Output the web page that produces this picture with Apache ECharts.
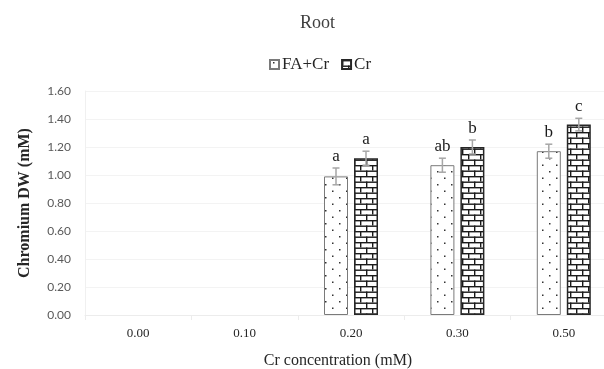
<!DOCTYPE html>
<html>
<head>
<meta charset="utf-8">
<script src="https://cdn.jsdelivr.net/npm/echarts@6/dist/echarts.min.js"></script>
<style>
    html, body { margin: 0; padding: 0; background: #fff; }
    #chart { width: 604px; height: 369px; }
</style>
</head>
<body>
<div id="chart"></div>
<script>
// data
const categories = ['0.00', '0.10', '0.20', '0.30', '0.50'];
const faCrValues = [null, null, 0.99, 1.07, 1.17];
const crValues = [null, null, 1.12, 1.20, 1.36];
const faCrErr = [null, null, 0.06, 0.05, 0.05];
const crErr = [null, null, 0.05, 0.05, 0.045];
const faCrLetters = ['', '', 'a', 'ab', 'b'];
const crLetters = ['', '', 'a', 'b', 'c'];

const serif = '"Liberation Serif", "DejaVu Serif", serif';

// dotted fill for FA+Cr
function dotPattern() {
    const c = document.createElement('canvas');
    c.width = 14; c.height = 13;
    const ctx = c.getContext('2d');
    ctx.fillStyle = '#fff';
    ctx.fillRect(0, 0, 14, 13);
    ctx.fillStyle = '#333';
    ctx.fillRect(3, 2, 1.5, 1.5);
    ctx.fillRect(10, 8.5, 1.5, 1.5);
    return c;
}

// brick fill for Cr
function brickPattern() {
    const c = document.createElement('canvas');
    c.width = 12; c.height = 11;
    const ctx = c.getContext('2d');
    ctx.fillStyle = '#fff';
    ctx.fillRect(0, 0, 12, 11);
    ctx.fillStyle = '#1a1a1a';
    ctx.fillRect(0, 0, 12, 1.4);
    ctx.fillRect(0, 5.5, 12, 1.4);
    ctx.fillRect(0, 0, 1.4, 5.5);
    ctx.fillRect(6, 5.5, 1.4, 5.5);
    return c;
}

// error bars + letters for both series
const errData = [];
categories.forEach((cat, i) => {
    if (faCrValues[i] != null) errData.push([i, faCrValues[i], faCrErr[i], faCrLetters[i], -1]);
    if (crValues[i] != null) errData.push([i, crValues[i], crErr[i], crLetters[i], 1]);
});

const chart = echarts.init(document.getElementById('chart'));
const option = {
    backgroundColor: '#fff',
    animation: false,
    title: {
        text: 'Root',
        left: 295,
        top: 9,
        textStyle: {fontFamily: serif, fontSize: 18, fontWeight: 'normal', color: '#404040'}
    },
    legend: {
        left: 264,
        top: 51,
        itemWidth: 9,
        itemHeight: 9,
        itemGap: 12,
        icon: 'rect',
        textStyle: {fontFamily: serif, fontSize: 17, color: '#262626', padding: [0, 0, 0, -2]},
        data: ['FA+Cr', 'Cr']
    },
    grid: {left: 85, top: 91, width: 532, height: 224, outerBoundsMode: 'none', containLabel: false},
    xAxis: {
        type: 'category',
        data: categories,
        name: 'Cr concentration (mM)',
        nameLocation: 'middle',
        nameGap: 38,
        nameTextStyle: {fontFamily: serif, fontSize: 16, color: '#262626', padding: [0, 26, 0, 0]},
        axisLine: {lineStyle: {color: '#ececec'}},
        axisTick: {show: true, length: 5, lineStyle: {color: '#ececec'}},
        axisLabel: {fontFamily: serif, fontSize: 13, color: '#262626', margin: 12}
    },
    yAxis: {
        type: 'value',
        min: 0,
        max: 1.6,
        interval: 0.2,
        name: 'Chromium DW (mM)',
        nameLocation: 'middle',
        nameGap: 52,
        nameTextStyle: {fontFamily: serif, fontSize: 16, fontWeight: 'bold', color: '#262626'},
        axisLine: {show: true, lineStyle: {color: '#f0f0f0'}},
        splitLine: {lineStyle: {color: '#f3f3f3'}},
        axisLabel: {fontFamily: 'Lato, "Open Sans", sans-serif', fontSize: 12, color: '#595959', margin: 14,
            formatter: v => v.toFixed(2)}
    },
    series: [
        {
            name: 'FA+Cr',
            type: 'bar',
            barWidth: 24,
            barGap: '25%',
            data: faCrValues,
            itemStyle: {color: {image: dotPattern(), repeat: 'repeat'}, borderColor: '#7a7a7a', borderWidth: 1}
        },
        {
            name: 'Cr',
            type: 'bar',
            barWidth: 24,
            data: crValues,
            itemStyle: {color: {image: brickPattern(), repeat: 'repeat'}, borderColor: '#262626', borderWidth: 1.5}
        },
        {
            type: 'custom',
            data: errData,
            encode: {x: 0, y: 1},
            z: 10,
            renderItem: function (params, api) {
                const i = api.value(0);
                const v = api.value(1);
                const e = api.value(2);
                const side = api.value(4);
                const top = api.coord([i, v + e]);
                const bot = api.coord([i, v - e]);
                const x = top[0] + side * 15;
                const cap = 3.5;
                const style = {stroke: '#a6a6a6', lineWidth: 1.5};
                return {
                    type: 'group',
                    children: [
                        {type: 'line', shape: {x1: x, y1: top[1], x2: x, y2: bot[1]}, style: style},
                        {type: 'line', shape: {x1: x - cap, y1: top[1], x2: x + cap, y2: top[1]}, style: style},
                        {type: 'line', shape: {x1: x - cap, y1: bot[1], x2: x + cap, y2: bot[1]}, style: style},
                        {
                            type: 'text',
                            style: {
                                x: x,
                                y: top[1] - 3,
                                text: errData[params.dataIndex][3],
                                textAlign: 'center',
                                textVerticalAlign: 'bottom',
                                fontFamily: serif,
                                fontSize: 17,
                                fill: '#1a1a1a'
                            }
                        }
                    ]
                };
            }
        }
    ]
};
chart.setOption(option);
</script>
</body>
</html>
